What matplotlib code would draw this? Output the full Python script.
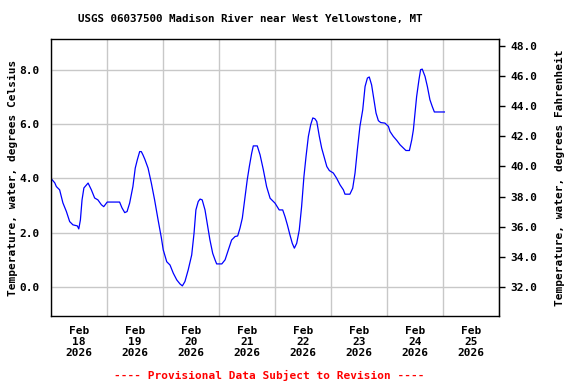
import matplotlib
matplotlib.use("Agg")
import matplotlib.pyplot as plt
from matplotlib.ticker import FixedLocator, FormatStrFormatter

# Water temperature, hours since 2026-02-18 00:00 vs degrees Celsius
hours = [0.0, 1.6, 2.3, 3.7, 5.1, 6.6, 8.0, 9.4, 11.3, 11.9, 12.6, 13.3, 14.1, 15.9,
         17.3, 18.7, 20.1, 21.6, 22.6, 24.1, 29.4, 30.4, 31.6, 32.6, 33.7, 35.1, 36.1,
         37.0, 38.0, 38.7, 39.4, 40.2, 41.6, 43.0, 44.4, 45.9, 47.3, 48.1, 49.6, 51.0,
         52.4, 53.9, 55.3, 56.3, 57.4, 58.8, 60.3, 61.3, 62.1, 63.1, 63.9, 64.8, 66.0,
         67.4, 68.1, 69.3, 70.3, 71.0, 73.2, 74.6, 76.0, 77.4, 78.9, 80.0, 81.0, 82.0,
         83.1, 84.1, 85.0, 86.0, 86.7, 88.4, 89.6, 91.0, 92.4, 93.9, 96.0, 97.8, 99.3,
         100.3, 101.3, 102.4, 103.4, 104.3, 105.3, 106.4, 107.4, 108.4, 109.3, 110.3,
         111.3, 112.2, 113.1, 113.9, 115.0, 116.0, 117.0, 118.2, 119.3, 121.0, 122.4,
         123.9, 125.3, 126.0, 128.1, 129.3, 130.3, 131.3, 132.4, 133.6, 134.6, 135.6,
         136.4, 137.4, 138.4, 139.3, 140.3, 141.3, 143.1, 144.6, 145.3, 146.7, 148.2,
         149.6, 151.0, 152.1, 153.6, 154.6, 155.3, 156.0, 156.7, 157.7, 158.4, 159.1,
         160.3, 161.3, 162.4, 163.4, 164.3, 168.6]
temp_c = [4.0, 3.84, 3.7, 3.58, 3.1, 2.78, 2.41, 2.29, 2.25, 2.14, 2.47, 3.21, 3.65, 3.83,
          3.58, 3.28, 3.21, 3.03, 2.96, 3.13, 3.13, 2.92, 2.74, 2.78, 3.09, 3.70, 4.38,
          4.69, 4.99, 4.99, 4.87, 4.71, 4.38, 3.83, 3.21, 2.47, 1.81, 1.37, 0.93, 0.81,
          0.51, 0.26, 0.11, 0.04, 0.20, 0.63, 1.18, 1.98, 2.84, 3.15, 3.24, 3.21, 2.84,
          2.10, 1.74, 1.24, 1.0, 0.85, 0.85, 1.0, 1.37, 1.73, 1.86, 1.88, 2.17, 2.54,
          3.27, 3.95, 4.44, 4.93, 5.20, 5.20, 4.87, 4.32, 3.70, 3.27, 3.09, 2.84, 2.84,
          2.59, 2.29, 1.92, 1.61, 1.43, 1.61, 2.10, 2.96, 4.07, 4.81, 5.55,
          5.98, 6.23, 6.20, 6.10, 5.55, 5.12, 4.81, 4.44, 4.29, 4.20, 4.01,
          3.76, 3.58, 3.42, 3.42, 3.64, 4.20, 5.06, 5.92, 6.53, 7.39, 7.70,
          7.74, 7.45, 6.90, 6.41, 6.13, 6.06, 6.04, 5.92, 5.73, 5.55, 5.40,
          5.24, 5.12, 5.03, 5.03, 5.42, 5.79, 6.41, 7.02, 7.64, 8.01, 8.03,
          7.76, 7.39, 6.90, 6.65, 6.45, 6.45]

days = ["18", "19", "20", "21", "22", "23", "24", "25"]
day_labels = ["Feb\n%s\n2026" % d for d in days]
c_ticks = [0, 2, 4, 6, 8]
f_ticks = [32, 34, 36, 38, 40, 42, 44, 46, 48]

title = "USGS 06037500 Madison River near West Yellowstone, MT"
font = "DejaVu Sans Mono"

fig = plt.figure(figsize=(5.76, 3.84), dpi=100)
ax = fig.add_axes([51 / 576, 68 / 384, 448 / 576, 277 / 384])

ax.plot(hours, temp_c, color="#0000ff", linewidth=0.9)

ax.set_xlim(0, 24 * len(days))
ax.set_ylim(-1.07, 9.14)

# day boundaries get the grid, day middles get the labels
ax.xaxis.set_major_locator(FixedLocator([24 * i for i in range(len(days) + 1)]))
ax.xaxis.set_minor_locator(FixedLocator([12 + 24 * i for i in range(len(days))]))
ax.set_xticklabels([], minor=False)
ax.set_xticklabels(day_labels, minor=True, family=font, fontweight="bold",
                   fontsize=8, linespacing=1.15)
ax.tick_params(axis="x", which="both", length=0, pad=7)

ax.set_yticks(c_ticks)
ax.yaxis.set_major_formatter(FormatStrFormatter("%.1f"))
ax.tick_params(axis="y", length=0, pad=8)
for lab in ax.get_yticklabels():
    lab.set_family(font)
    lab.set_fontweight("bold")
    lab.set_fontsize(8)

ax.grid(True, which="major", color="#c8c8c8", linewidth=1)
ax.set_axisbelow(True)
for sp in ax.spines.values():
    sp.set_color("black")
    sp.set_linewidth(1)

ax.set_ylabel("Temperature, water, degrees Celsius", family=font,
              fontweight="bold", fontsize=8, labelpad=1)

sec = ax.secondary_yaxis("right", functions=(lambda c: c * 1.8 + 32,
                                             lambda f: (f - 32) / 1.8))
sec.set_yticks(f_ticks)
sec.yaxis.set_major_formatter(FormatStrFormatter("%.1f"))
sec.tick_params(direction="out", length=4, width=1, pad=4)
for lab in sec.get_yticklabels():
    lab.set_family(font)
    lab.set_fontweight("bold")
    lab.set_fontsize(8)
sec.set_ylabel("Temperature, water, degrees Fahrenheit", family=font,
               fontweight="bold", fontsize=8, labelpad=13)

fig.text(250 / 576, 1 - 19 / 384, title, ha="center", va="center",
         family=font, fontweight="bold", fontsize=7.8)
fig.text(269 / 576, 1 - 375 / 384, "---- Provisional Data Subject to Revision ----",
         ha="center", va="center", family=font, fontweight="bold",
         fontsize=8, color="red")

fig.savefig("out.png", dpi=100)
